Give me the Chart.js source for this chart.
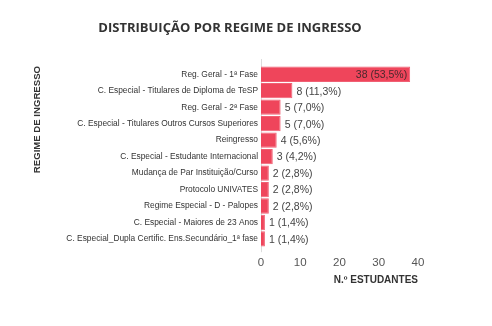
<!DOCTYPE html>
<html>
<head>
<meta charset="utf-8">
<script src="https://cdn.jsdelivr.net/npm/chart.js@4/dist/chart.umd.min.js"></script>
<style>
  html, body { margin: 0; padding: 0; background: #fff; }
  #wrap { position: relative; width: 492px; height: 326px; }
  #title {
    position: absolute; left: 0; top: 18px; width: 460px;
    text-align: center; margin: 0;
    font: bold 13px "Open Sans", sans-serif; color: #333;
  }
</style>
</head>
<body>
<div id="wrap">
  <h1 id="title">DISTRIBUIÇÃO POR REGIME DE INGRESSO</h1>
  <canvas id="regimeChart"></canvas>
</div>
<script>
const categories = [
  "Reg. Geral - 1ª Fase",
  "C. Especial - Titulares de Diploma de TeSP",
  "Reg. Geral - 2ª Fase",
  "C. Especial - Titulares Outros Cursos Superiores",
  "Reingresso",
  "C. Especial - Estudante Internacional",
  "Mudança de Par Instituição/Curso",
  "Protocolo UNIVATES",
  "Regime Especial - D - Palopes",
  "C. Especial - Maiores de 23 Anos",
  "C. Especial_Dupla Certific. Ens.Secundário_1ª fase"
];
const students = [38, 8, 5, 5, 4, 3, 2, 2, 2, 1, 1];
const xTicks = [0, 10, 20, 30, 40];

const total = students.reduce((a, b) => a + b, 0);

// value labels like "38 (53,5%)"
const valueLabels = {
  id: 'valueLabels',
  afterDatasetsDraw(chart) {
    const ctx = chart.ctx;
    const meta = chart.getDatasetMeta(0);
    ctx.save();
    ctx.font = '10.5px "Liberation Sans", Arial, sans-serif';
    ctx.textBaseline = 'middle';
    meta.data.forEach((bar, i) => {
      const v = students[i];
      const txt = v + ' (' + (v / total * 100).toFixed(1).replace('.', ',') + '%)';
      const w = ctx.measureText(txt).width;
      if (bar.x - bar.base > w + 10) {
        ctx.fillStyle = 'rgba(45,35,38,0.85)';
        ctx.textAlign = 'right';
        ctx.fillText(txt, bar.x - 3, bar.y + 1);
      } else {
        ctx.fillStyle = '#444';
        ctx.textAlign = 'left';
        ctx.fillText(txt, bar.x + 4, bar.y + 1);
      }
    });
    ctx.restore();
  }
};

// the y axis line runs a little past the plot area
const axisLine = {
  id: 'axisLine',
  beforeDatasetsDraw(chart) {
    const { ctx, chartArea } = chart;
    ctx.save();
    ctx.strokeStyle = '#dcdcdc';
    ctx.lineWidth = 1;
    ctx.beginPath();
    ctx.moveTo(chartArea.left + 0.5, chartArea.top - 7);
    ctx.lineTo(chartArea.left + 0.5, chartArea.bottom + 5);
    ctx.stroke();
    ctx.restore();
  }
};

new Chart(document.getElementById('regimeChart'), {
  type: 'bar',
  data: {
    labels: categories,
    datasets: [{
      data: students,
      backgroundColor: '#ef455b',
      borderColor: '#f06074',
      borderWidth: 1,
      barPercentage: 0.93,
      categoryPercentage: 1
    }]
  },
  options: {
    indexAxis: 'y',
    responsive: true,
    maintainAspectRatio: false,
    animation: false,
    layout: { padding: { top: 66, left: 28, right: 74, bottom: 38 } },
    plugins: {
      legend: { display: false },
      tooltip: { enabled: false }
    },
    scales: {
      x: {
        min: 0,
        max: 40,
        afterBuildTicks(axis) { axis.ticks = xTicks.map(v => ({ value: v })); },
        grid: { display: false, drawTicks: false },
        border: { display: false },
        ticks: {
          color: '#555',
          padding: 9,
          font: { family: '"Liberation Sans", Arial, sans-serif', size: 11.5 }
        },
        title: {
          display: true,
          text: 'N.º ESTUDANTES',
          align: 'end',
          color: '#333',
          padding: { top: -5, bottom: 2 },
          font: { family: '"Liberation Sans", Arial, sans-serif', size: 10, weight: 'bold' }
        }
      },
      y: {
        afterFit(axis) { axis.width = 233; },
        grid: { display: false, drawTicks: false },
        border: { display: false },
        ticks: {
          color: '#333',
          padding: 3,
          autoSkip: false,
          font: { family: '"Liberation Sans", Arial, sans-serif', size: 8.4 }
        },
        title: {
          display: true,
          text: 'REGIME DE INGRESSO',
          align: 'end',
          color: '#333',
          padding: { top: 4, bottom: 0 },
          font: { family: '"Liberation Sans", Arial, sans-serif', size: 9.6, weight: 'bold' }
        }
      }
    }
  },
  plugins: [valueLabels, axisLine]
});
</script>
</body>
</html>
